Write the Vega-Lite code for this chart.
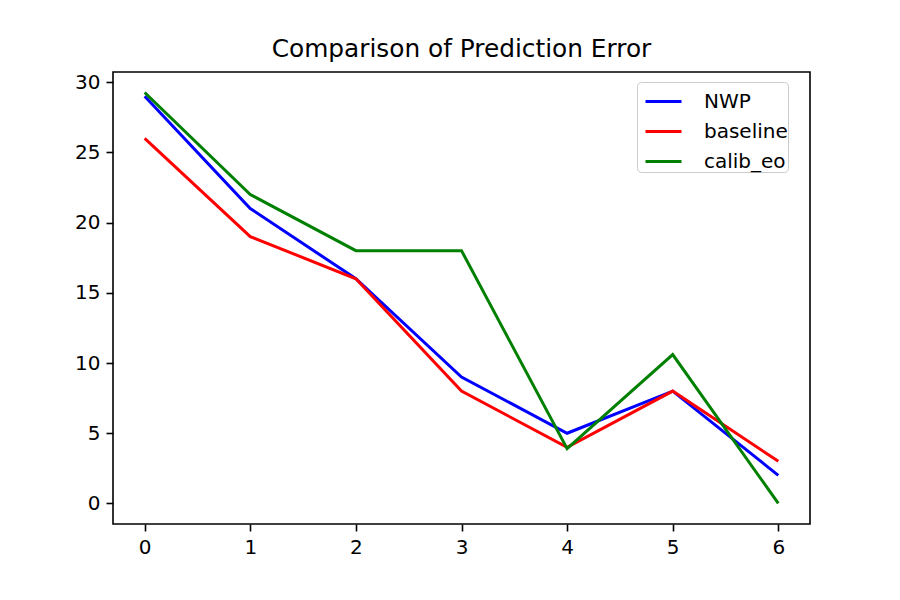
{
  "$schema": "https://vega.github.io/schema/vega-lite/v6.json",
  "width": 697,
  "height": 452,
  "autosize": {"type": "none"},
  "padding": {"left": 113, "top": 72, "right": 90, "bottom": 76},
  "background": "white",
  "title": {"text": "Comparison of Prediction Error", "font": "DejaVu Sans", "fontSize": 24.8, "fontWeight": "normal", "color": "black", "offset": 10},
  "config": {
    "view": {"stroke": "black", "strokeWidth": 1.6},
    "axis": {"grid": false, "domain": false, "tickColor": "black", "tickSize": 7, "tickWidth": 1.6, "labelFont": "DejaVu Sans", "labelFontSize": 20, "labelColor": "black", "labelPadding": 6, "title": null}
  },
  "data": {"values": [
    {"x": 0, "series": "NWP", "error": 29},
    {"x": 1, "series": "NWP", "error": 21},
    {"x": 2, "series": "NWP", "error": 16},
    {"x": 3, "series": "NWP", "error": 9},
    {"x": 4, "series": "NWP", "error": 5},
    {"x": 5, "series": "NWP", "error": 8},
    {"x": 6, "series": "NWP", "error": 2},
    {"x": 0, "series": "baseline", "error": 26},
    {"x": 1, "series": "baseline", "error": 19},
    {"x": 2, "series": "baseline", "error": 16},
    {"x": 3, "series": "baseline", "error": 8},
    {"x": 4, "series": "baseline", "error": 4},
    {"x": 5, "series": "baseline", "error": 8},
    {"x": 6, "series": "baseline", "error": 3},
    {"x": 0, "series": "calib_eo", "error": 29.26},
    {"x": 1, "series": "calib_eo", "error": 22},
    {"x": 2, "series": "calib_eo", "error": 18},
    {"x": 3, "series": "calib_eo", "error": 18},
    {"x": 4, "series": "calib_eo", "error": 3.9},
    {"x": 5, "series": "calib_eo", "error": 10.6},
    {"x": 6, "series": "calib_eo", "error": 0}
  ]},
  "mark": {"type": "line", "strokeWidth": 3},
  "encoding": {
    "x": {"field": "x", "type": "quantitative", "scale": {"domain": [-0.3, 6.3], "nice": false, "zero": false}, "axis": {"values": [0,1,2,3,4,5,6], "format": "d"}},
    "y": {"field": "error", "type": "quantitative", "scale": {"domain": [-1.463, 30.72], "nice": false, "zero": false}, "axis": {"values": [0,5,10,15,20,25,30], "format": "d"}},
    "color": {
      "field": "series", "type": "nominal",
      "scale": {"domain": ["NWP", "baseline", "calib_eo"], "range": ["#0000ff", "#ff0000", "#008000"]},
      "legend": {
        "title": null, "orient": "none", "legendX": 524, "legendY": 10,
        "symbolType": "stroke", "symbolSize": 1296, "symbolStrokeWidth": 3, "symbolOffset": 7,
        "labelFont": "DejaVu Sans", "labelFontSize": 20, "labelColor": "black", "labelOffset": 21,
        "rowPadding": -5, "padding": 0, "fillColor": "white", "strokeColor": "#cccccc", "cornerRadius": 4
      }
    }
  }
}
